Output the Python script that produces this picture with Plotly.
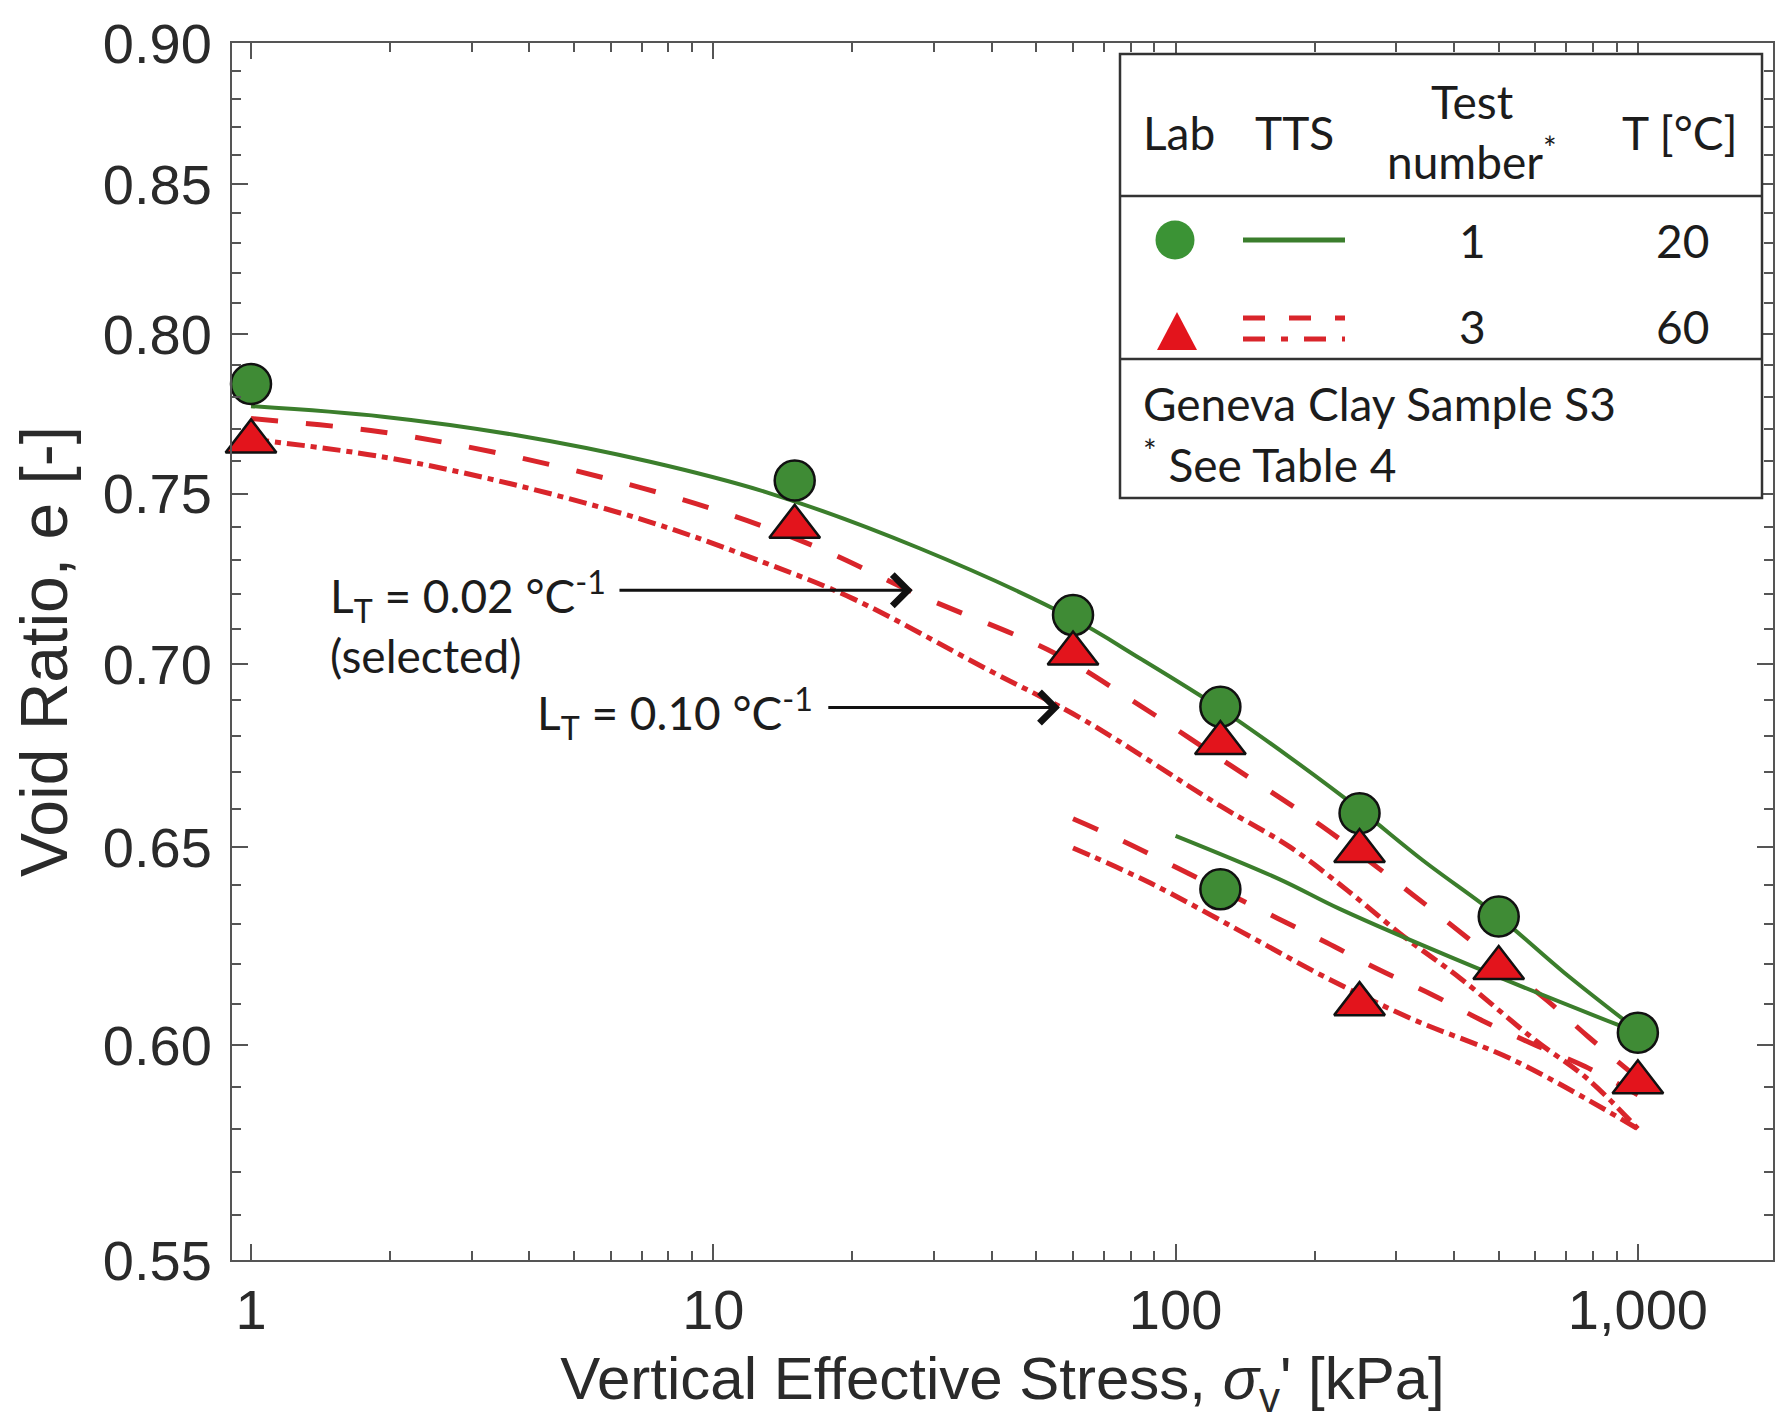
import numpy as np
import plotly.graph_objects as go

# ---------------------------------------------------------------
# Oedometer results, Geneva Clay sample S3
# ---------------------------------------------------------------
# Laboratory points, test 1 (20 °C): loading to 1000 kPa, then unloading to 125 kPa
lab20_stress = [1, 15, 60, 125, 250, 500, 1000, 125]
lab20_void = [0.784, 0.754, 0.714, 0.688, 0.659, 0.632, 0.603, 0.639]

# Laboratory points, test 3 (60 °C): loading to 1000 kPa, then unloading to 250 kPa
lab60_stress = [1, 15, 60, 125, 250, 500, 1000, 250]
lab60_void = [0.766, 0.740, 0.703, 0.678, 0.649, 0.619, 0.591, 0.610]

# TTS prediction at 20 °C (loading and unloading branches)
tts20_load_stress = [1, 1.93, 3.76, 7.3, 13.3, 28, 59, 84, 125, 177, 250, 343, 500, 690, 1000]
tts20_load_void = [0.777, 0.7737, 0.7679, 0.7597, 0.750, 0.7335, 0.7135, 0.7015,
                   0.6875, 0.674, 0.660, 0.6465, 0.632, 0.618, 0.6035]
tts20_unload_stress = [100, 168, 227, 437, 900, 1000]
tts20_unload_void = [0.653, 0.6416, 0.6339, 0.6195, 0.605, 0.603]

# TTS prediction at 60 °C with L_T = 0.02 1/°C (dashed)
lt002_load_stress = [1, 1.9, 3.34, 5.83, 10.1, 17, 28, 54.4, 80, 131, 207, 327, 495, 635, 781, 1000]
lt002_load_void = [0.7731, 0.769, 0.7627, 0.7547, 0.7451, 0.7335, 0.7197, 0.7033, 0.690,
                   0.672, 0.6556, 0.6375, 0.6207, 0.611, 0.602, 0.592]
lt002_unload_stress = [60, 77, 100, 166, 212, 275, 358, 460, 599, 769, 1000]
lt002_unload_void = [0.6575, 0.6516, 0.6448, 0.6316, 0.6254, 0.6186, 0.6124,
                     0.606, 0.600, 0.5948, 0.588]

# TTS prediction at 60 °C with L_T = 0.10 1/°C (dash-dot)
lt010_load_stress = [1, 1.93, 3.76, 7.3, 12.8, 20.1, 39, 63, 124.7, 177, 236, 311, 412, 599, 775, 1000]
lt010_load_void = [0.7667, 0.7612, 0.7525, 0.7414, 0.7295, 0.7187, 0.6986, 0.6845, 0.661,
                   0.650, 0.6386, 0.627, 0.6165, 0.6012, 0.592, 0.580]
lt010_unload_stress = [60, 88, 138, 209, 327, 537, 1000]
lt010_unload_void = [0.6498, 0.6407, 0.6283, 0.6169, 0.6062, 0.5964, 0.580]

# Axis ticks
x_ticks = [1, 10, 100, 1000]
x_ticktext = ["1", "10", "100", "1,000"]
x_minor = [m * d for d in (1, 10, 100) for m in range(2, 10)]
y_ticks = [0.55, 0.60, 0.65, 0.70, 0.75, 0.80, 0.85, 0.90]
y_ticktext = ["0.55", "0.60", "0.65", "0.70", "0.75", "0.80", "0.85", "0.90"]
y_minor = [round(0.55 + 0.01 * i, 2) for i in range(36) if i % 5 != 0]

# ---------------------------------------------------------------
# Styling
# ---------------------------------------------------------------
GREEN_LINE = "#3b7e2c"
GREEN_FILL = "#3f8b35"
GREEN_KEY = "#3b9335"
RED_LINE = "#d9252b"
RED_FILL = "#e3141c"
AXIS = "#555555"
TEXT = "#1c1c1c"
DASH = "27px,28px"
DASHDOT = "18px,6px,6px,6px"

W, H = 1775, 1421
ML, MR, MT, MB = 232, 2, 43, 161
PW, PH = W - ML - MR, H - MT - MB


def px(x):
    """Horizontal pixel -> paper fraction."""
    return (x - ML) / PW


def py(y):
    """Vertical pixel (from top) -> paper fraction."""
    return (H - MB - y) / PH


fig = go.Figure()


def curve(xs, ys, color, width, dash):
    fig.add_trace(go.Scatter(
        x=xs, y=ys, mode="lines", showlegend=False, hoverinfo="skip",
        line=dict(color=color, width=width, dash=dash, shape="spline", smoothing=1.0),
    ))


# model curves
curve(lt010_load_stress, lt010_load_void, RED_LINE, 5, DASHDOT)
curve(lt010_unload_stress, lt010_unload_void, RED_LINE, 5, DASHDOT)
curve(lt002_load_stress, lt002_load_void, RED_LINE, 5, DASH)
curve(lt002_unload_stress, lt002_unload_void, RED_LINE, 5, DASH)
curve(tts20_load_stress, tts20_load_void, GREEN_LINE, 4, "solid")
curve(tts20_unload_stress, tts20_unload_void, GREEN_LINE, 4, "solid")

# laboratory points
fig.add_trace(go.Scatter(
    x=lab20_stress, y=lab20_void, mode="markers", showlegend=False, cliponaxis=False,
    marker=dict(symbol="circle", size=40, color=GREEN_FILL, line=dict(color="#111", width=2.5)),
))
fig.add_trace(go.Scatter(
    x=lab60_stress, y=lab60_void, mode="markers", showlegend=False, cliponaxis=False,
    marker=dict(symbol="triangle-up", size=44, color=RED_FILL, line=dict(color="#111", width=2.5)),
))

axis_font = dict(family="Liberation Sans, Arial, sans-serif", size=56, color="#2a2a2a")
label_font = dict(family="Lato, Calibri, sans-serif", size=46, color=TEXT)

fig.update_xaxes(
    type="log", range=[-0.0411, 3.2923],
    tickvals=x_ticks, ticktext=x_ticktext,
    ticks="inside", ticklen=16, tickwidth=2, tickcolor=AXIS,
    minor=dict(tickvals=x_minor, ticks="inside", ticklen=9, tickwidth=1.5, tickcolor=AXIS),
    showline=True, linecolor=AXIS, linewidth=2, mirror="allticks",
    showgrid=False, zeroline=False, automargin=False,
    tickfont=axis_font, ticklabelstandoff=0,
    title=dict(text="Vertical Effective Stress, <i>σ</i><sub>v</sub>' [kPa]",
               font=dict(family="Liberation Sans, Arial, sans-serif", size=60, color="#2a2a2a"),
               standoff=30),
)
fig.update_yaxes(
    type="log", range=[np.log10(0.55), np.log10(0.90)],
    tickvals=y_ticks, ticktext=y_ticktext,
    ticks="inside", ticklen=16, tickwidth=2, tickcolor=AXIS,
    minor=dict(tickvals=y_minor, ticks="inside", ticklen=9, tickwidth=1.5, tickcolor=AXIS),
    showline=True, linecolor=AXIS, linewidth=2, mirror="allticks",
    showgrid=False, zeroline=False, automargin=False,
    tickfont=axis_font, ticklabelstandoff=7,
    title=dict(text="Void Ratio, e [-]",
               font=dict(family="Liberation Sans, Arial, sans-serif", size=66, color="#2a2a2a"),
               standoff=14),
)

shapes = []
annotations = []

# arrows pointing at the two 60 °C predictions
for tip_s, tip_e, tail_s in [(27.0, 0.7212, 6.22), (56.2, 0.6878, 17.6)]:
    annotations.append(dict(
        x=np.log10(tip_s), y=np.log10(tip_e), ax=np.log10(tail_s), ay=np.log10(tip_e),
        xref="x", yref="y", axref="x", ayref="y", text="", showarrow=True,
        arrowhead=4, arrowsize=2.0, arrowwidth=3, arrowcolor="#111",
    ))

annotations += [
    dict(x=px(328), y=py(622), text="L<sub>T</sub> = 0.02 °C<sup>-1</sup><br>(selected)",
         xanchor="left"),
    dict(x=px(535), y=py(713), text="L<sub>T</sub> = 0.10 °C<sup>-1</sup>", xanchor="left"),
]

# key table in the upper-right corner
box_l, box_r, box_t, box_b = 1120, 1762, 54, 498
shapes.append(dict(type="rect", xref="paper", yref="paper", x0=px(box_l), x1=px(box_r),
                   y0=py(box_b), y1=py(box_t), line=dict(color="#333", width=2.5),
                   fillcolor="white", layer="above"))
for yy in (196, 359):
    shapes.append(dict(type="line", xref="paper", yref="paper", x0=px(box_l), x1=px(box_r),
                       y0=py(yy), y1=py(yy), line=dict(color="#333", width=2.5), layer="above"))

# row 1 key: circle + solid line
shapes.append(dict(type="circle", xref="paper", yref="paper",
                   x0=px(1155.5), x1=px(1194.5), y0=py(259.5), y1=py(220.5),
                   fillcolor=GREEN_KEY, line=dict(width=0), layer="above"))
shapes.append(dict(type="line", xref="paper", yref="paper", x0=px(1243), x1=px(1345),
                   y0=py(240), y1=py(240), line=dict(color=GREEN_LINE, width=5), layer="above"))
# row 2 key: triangle + dashed / dash-dot lines
tri = "M {:.5f},{:.5f} L {:.5f},{:.5f} L {:.5f},{:.5f} Z".format(
    px(1177), py(312), px(1157), py(350), px(1197), py(350))
shapes.append(dict(type="path", xref="paper", yref="paper", path=tri,
                   fillcolor=RED_FILL, line=dict(width=0), layer="above"))
shapes.append(dict(type="line", xref="paper", yref="paper", x0=px(1243), x1=px(1345),
                   y0=py(318), y1=py(318), line=dict(color=RED_LINE, width=5, dash="22px,24px"),
                   layer="above"))
shapes.append(dict(type="line", xref="paper", yref="paper", x0=px(1243), x1=px(1345),
                   y0=py(339), y1=py(339), line=dict(color=RED_LINE, width=5, dash="22px,16px,7px,16px"),
                   layer="above"))

key_text = [
    (1141, 132, "Lab", "left"),
    (1253, 132, "TTS", "left"),
    (1472, 102, "Test", "center"),
    (1472, 158, "number<sup>*</sup>", "center"),
    (1680, 132, "T [°C]", "center"),
    (1472, 240, "1", "center"),
    (1682, 240, "20", "center"),
    (1472, 326, "3", "center"),
    (1682, 326, "60", "center"),
    (1141, 404, "Geneva Clay Sample S3", "left"),
    (1141, 461, "<sup>*</sup> See Table 4", "left"),
]
for xx, yy, txt, anchor in key_text:
    annotations.append(dict(x=px(xx), y=py(yy), text=txt, xanchor=anchor))

for a in annotations:
    if a.get("showarrow"):
        continue
    a.update(xref="paper", yref="paper", yanchor="middle", showarrow=False,
             font=label_font, align="left")

fig.update_layout(
    width=W, height=H,
    margin=dict(l=ML, r=MR, t=MT, b=MB, pad=0),
    paper_bgcolor="white", plot_bgcolor="white",
    shapes=shapes, annotations=annotations,
    showlegend=False,
)

fig.write_html("out.html")
